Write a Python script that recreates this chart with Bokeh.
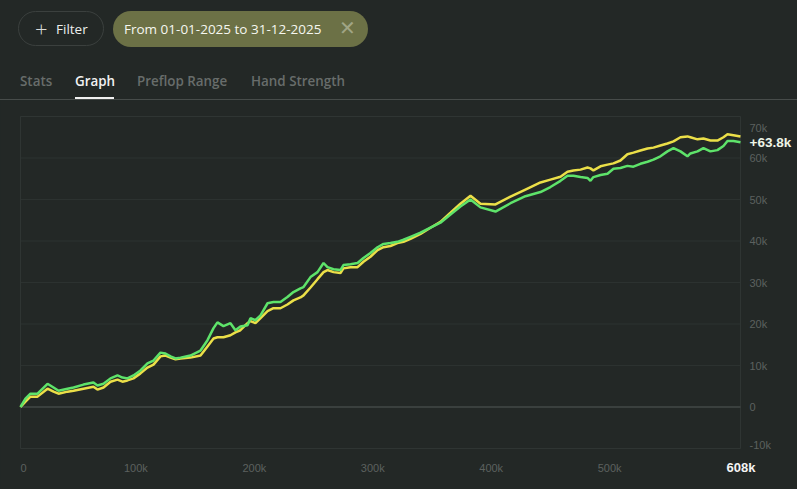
from bokeh.plotting import figure
from bokeh.models import Range1d, Div, GlobalInlineStyleSheet
from bokeh.core.properties import value
from bokeh.layouts import column
from bokeh.embed import file_html
from bokeh.resources import INLINE

# ---------------- data (thousands of hands, thousands won) ----------------
hands_k = [0, 4.2, 8.4, 14.4, 22.8, 27.9, 32.1, 39.7, 44.8, 53.2, 61.6, 65.0, 70.1,
           76.0, 81.9, 86.1, 90.3, 95.4, 101.3, 107.2, 112.3, 118.2, 122.4, 126.7,
           130.9, 135.1, 143.5, 152.0, 157.9, 163.0, 166.3, 171.4, 177.3, 181.5,
           185.7, 191.7, 194.2, 198.4, 202.7, 208.6, 213.6, 219.5, 225.4, 230.5,
           236.4, 239.0, 244.9, 250.8, 255.9, 259.2, 264.3, 270.2, 272.7, 278.7,
           284.6, 289.6, 295.5, 301.5, 306.5, 312.4, 318.3, 323.4, 329.3, 337.8,
           346.2, 354.6, 363.1, 371.5, 380.0, 388.4, 401.1, 413.8, 426.4, 439.1,
           447.5, 456.0, 461.9, 466.9, 472.9, 478.8, 481.3, 483.8, 489.8, 495.7,
           500.7, 506.6, 512.5, 517.6, 523.5, 529.5, 534.5, 540.4, 546.3, 551.4,
           557.3, 563.2, 565.7, 571.7, 576.7, 582.6, 588.5, 593.6, 597.0, 602.0, 608.0]

net_won_k = [0, 2.0, 3.2, 3.2, 5.6, 4.7, 3.9, 4.4, 4.7, 5.4, 5.9, 5.2, 5.6,
             6.9, 7.6, 7.1, 6.9, 7.6, 8.8, 10.5, 11.2, 13.1, 12.9, 12.2,
             11.7, 11.9, 12.4, 13.6, 16.1, 19.0, 20.4, 19.5, 20.2, 18.5,
             19.4, 19.7, 21.4, 20.9, 22.1, 25.0, 25.3, 25.3, 26.5, 27.7,
             28.6, 28.9, 31.3, 32.5, 34.7, 33.7, 33.2, 33.0, 34.2, 34.4,
             34.7, 35.9, 37.1, 38.5, 39.3, 39.5, 39.8, 40.3, 41.0, 42.0,
             43.2, 44.4, 46.4, 48.3, 50.0, 48.1, 47.1, 49.1, 50.8, 51.8,
             53.0, 54.5, 55.7, 55.7, 55.4, 55.2, 54.5, 55.4, 55.9, 56.2,
             57.4, 57.6, 58.1, 57.9, 58.6, 59.1, 59.6, 60.4, 61.6, 62.4,
             61.6, 60.4, 61.1, 61.6, 62.4, 61.6, 61.9, 62.9, 64.1, 64.1, 63.8]

ev_won_k = [0, 1.3, 2.5, 2.5, 4.4, 3.7, 3.2, 3.7, 3.9, 4.4, 4.9, 4.2, 4.7,
            6.1, 6.6, 6.1, 6.4, 6.9, 8.1, 9.5, 10.2, 12.2, 12.4, 11.9,
            11.5, 11.7, 11.9, 12.4, 14.6, 16.5, 16.8, 16.8, 17.3, 18.0,
            18.5, 20.2, 20.7, 20.2, 21.4, 23.1, 23.8, 23.8, 24.7, 25.7,
            26.4, 26.9, 28.8, 30.8, 32.5, 33.0, 32.5, 32.3, 33.4, 33.7,
            33.7, 35.0, 36.2, 37.8, 38.5, 38.8, 39.5, 39.8, 40.5, 41.7,
            43.2, 44.6, 46.8, 49.0, 50.9, 49.0, 48.8, 50.7, 52.4, 54.1,
            54.8, 55.5, 56.7, 57.0, 57.2, 57.7, 57.5, 57.0, 58.0, 58.4,
            58.7, 59.4, 60.9, 61.3, 61.8, 62.3, 62.5, 63.0, 63.5, 64.0,
            65.0, 65.2, 65.0, 64.5, 64.7, 64.2, 64.2, 65.0, 65.7, 65.5, 65.2]

x_ticks = [0, 100, 200, 300, 400, 500]
y_ticks = [-10, 0, 10, 20, 30, 40, 50, 60, 70]
total_hands_k = 608

filter_label = "Filter"
date_filter = "From 01-01-2025 to 31-12-2025"
tabs = ["Stats", "Graph", "Preflop Range", "Hand Strength"]
active_tab = "Graph"

# ---------------- styles ----------------
BG = "#232826"
GREEN = "#5ee36a"
YELLOW = "#ebdf48"
GRID = "#2c3230"
BORDER = "#2f3533"
ZERO = "#4f5452"
AXIS_TXT = "#5c615f"
FONT = "Liberation Sans"

W = 797
HEADER_H = 100
FIG_H = 489 - HEADER_H
# plot box placement inside the figure canvas (pixels)
PX_L, PX_R, PX_T, PX_B = 20, 740, 16, 348


def fmt_k(t):
    return "0" if t == 0 else f"{t}k"


# ---------------- header (HTML) ----------------
tab_left = [20, 75, 137, 251]
tab_html = ""
for name, lx in zip(tabs, tab_left):
    col = "#f2f2f2" if name == active_tab else "#686d6b"
    tab_html += (f'<div style="position:absolute;left:{lx}px;top:71px;line-height:20px;'
                 f'font-size:13.4px;font-weight:600;color:{col};white-space:nowrap;">{name}</div>')

header_html = f"""
<div style="position:relative;width:{W}px;height:{HEADER_H}px;background:{BG};font-family:'Open Sans',sans-serif;">
 <div style="position:absolute;left:18px;top:11px;width:86px;height:35px;box-sizing:border-box;border:1px solid #3b403e;border-radius:18px;"></div>
 <div style="position:absolute;left:35px;top:18px;line-height:20px;font-size:22px;font-weight:300;color:#d8dad8;">+</div>
 <div style="position:absolute;left:56px;top:19px;line-height:20px;font-size:13.5px;font-weight:500;color:#eceeec;">{filter_label}</div>
 <div style="position:absolute;left:113px;top:11px;width:255px;height:36px;border-radius:18px;background:#6c7146;"></div>
 <div style="position:absolute;left:124px;top:19px;line-height:20px;font-size:13.5px;font-weight:500;color:#f6f7f0;white-space:nowrap;">{date_filter}</div>
 <div style="position:absolute;left:339px;top:18px;line-height:20px;font-size:20px;font-weight:300;color:#a0a585;">&#x2715;</div>
 {tab_html}
 <div style="position:absolute;left:75px;top:97px;width:39px;height:2px;background:#f0f0f0;"></div>
 <div style="position:absolute;left:0px;top:99px;width:{W}px;height:1px;background:#474c4a;"></div>
</div>
"""
header = Div(text=header_html, width=W, height=HEADER_H, margin=0)

# ---------------- chart ----------------
x_lo, x_hi = 0, total_hands_k
y_lo, y_hi = y_ticks[0], y_ticks[-1]
kx = (PX_R - PX_L) / (x_hi - x_lo)
ky = (PX_B - PX_T) / (y_hi - y_lo)
x_range = Range1d(x_lo - PX_L / kx, x_hi + (W - PX_R) / kx)
y_range = Range1d(y_lo - (FIG_H - PX_B) / ky, y_hi + PX_T / ky)

p = figure(width=W, height=FIG_H, output_backend="svg", toolbar_location=None,
           x_range=x_range, y_range=y_range,
           x_axis_location=None, y_axis_location=None,
           min_border=0, min_border_left=0, min_border_right=0,
           min_border_top=0, min_border_bottom=0,
           background_fill_color=BG, border_fill_color=BG,
           outline_line_color=None, margin=0)
p.grid.visible = False

# horizontal grid lines
n = len(y_ticks)
p.segment(x0=[x_lo] * n, x1=[x_hi] * n, y0=y_ticks, y1=y_ticks,
          line_color=GRID, line_width=1)
# plot box
p.quad(left=[x_lo], right=[x_hi], bottom=[y_lo], top=[y_hi],
       fill_color=None, line_color=BORDER, line_width=1)
# zero line
p.segment(x0=[x_lo], x1=[x_hi], y0=[0], y1=[0], line_color=ZERO, line_width=1.2)

p.line(hands_k, ev_won_k, line_color=YELLOW, line_width=2.5)
p.line(hands_k, net_won_k, line_color=GREEN, line_width=2.5)

# y tick labels (right side)
y_off = [11 if t == y_hi else (-3.5 if t == y_lo else 0) for t in y_ticks]
p.text(x=[x_hi] * n, y=y_ticks, text=[fmt_k(t) for t in y_ticks],
       x_offset=9, y_offset=y_off, text_align="left", text_baseline="middle",
       text_font=value(FONT), text_font_size="11px", text_color=AXIS_TXT)

# x tick labels (bottom)
m = len(x_ticks)
x_off = [3 if t == 0 else -3 for t in x_ticks]
p.text(x=x_ticks, y=[y_lo] * m, text=[fmt_k(t) for t in x_ticks],
       x_offset=x_off, y_offset=19.5, text_align="center", text_baseline="middle",
       text_font=value(FONT), text_font_size="11px", text_color=AXIS_TXT)

p.text(x=[x_hi], y=[y_lo], text=[f"{total_hands_k}k"], x_offset=0.5, y_offset=19,
       text_align="center", text_baseline="middle", text_font=value(FONT),
       text_font_style="bold", text_font_size="13px", text_color="#f4f4f4")

p.text(x=[x_hi], y=[net_won_k[-1]], text=[f"+{net_won_k[-1]:.1f}k"], x_offset=9,
       text_align="left", text_baseline="middle", text_font=value(FONT),
       text_font_style="bold", text_font_size="13.5px", text_color="#eef5e6")

layout = column(header, p, spacing=0)
layout.stylesheets = [GlobalInlineStyleSheet(css=f"html, body {{ background: {BG}; }}")]

open("out.html", "w").write(file_html(layout, INLINE))
